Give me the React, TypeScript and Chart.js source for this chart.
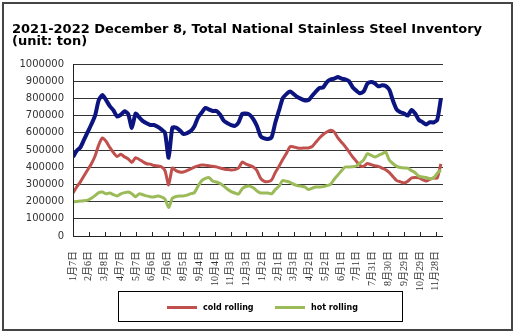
import React, { useEffect, useRef } from "react";
import { Chart, registerables } from "chart.js";
Chart.register(...registerables);

// Weekly observations, 7 Jan 2021 .. 8 Dec 2022 (101 weeks)
const totalInventory = [
  460000, 495000, 515000, 560000, 605000, 650000, 700000, 790000, 820000, 790000,
  755000, 730000, 695000, 705000, 725000, 709000, 628000, 712000, 690000, 668000,
  655000, 645000, 645000, 635000, 620000, 600000, 455000, 630000, 630000, 615000,
  593000, 598000, 610000, 638000, 690000, 718000, 745000, 735000, 727000, 727000,
  705000, 670000, 655000, 645000, 640000, 660000, 710000, 712000, 705000, 680000,
  640000, 580000, 567000, 564000, 575000, 660000, 730000, 800000, 825000, 840000,
  825000, 808000, 797000, 788000, 790000, 815000, 840000, 860000, 864000, 895000,
  910000, 915000, 924000, 915000, 910000, 900000, 865000, 845000, 830000, 840000,
  885000, 895000, 888000, 870000, 876000, 872000, 850000, 785000, 735000, 720000,
  712000, 700000, 733000, 712000, 675000, 662000, 648000, 662000, 660000, 675000,
  800000,
];
const coldRolling = [
  250000, 285000, 315000, 350000, 385000, 420000, 465000, 530000, 570000, 550000,
  515000, 485000, 462000, 475000, 460000, 448000, 428000, 455000, 445000, 432000,
  420000, 418000, 410000, 407000, 402000, 380000, 297000, 395000, 380000, 372000,
  372000, 380000, 390000, 400000, 408000, 413000, 412000, 408000, 405000, 402000,
  395000, 390000, 386000, 384000, 386000, 395000, 430000, 418000, 410000, 401000,
  380000, 335000, 318000, 316000, 326000, 370000, 405000, 445000, 480000, 520000,
  518000, 512000, 510000, 512000, 512000, 520000, 545000, 570000, 590000, 605000,
  615000, 605000, 570000, 545000, 520000, 490000, 460000, 435000, 410000, 405000,
  422000, 415000, 408000, 405000, 395000, 385000, 368000, 345000, 322000, 315000,
  308000, 318000, 337000, 340000, 338000, 328000, 320000, 330000, 337000, 337000,
  420000,
];
const hotRolling = [
  198000, 200000, 203000, 205000, 209000, 220000, 235000, 252000, 256000, 245000,
  250000, 240000, 233000, 245000, 252000, 256000, 246000, 228000, 245000, 240000,
  233000, 228000, 227000, 232000, 228000, 215000, 165000, 220000, 230000, 233000,
  233000, 238000, 246000, 252000, 290000, 322000, 335000, 340000, 318000, 314000,
  305000, 290000, 272000, 258000, 250000, 244000, 275000, 288000, 290000, 280000,
  262000, 250000, 250000, 250000, 245000, 270000, 290000, 322000, 318000, 312000,
  300000, 293000, 290000, 285000, 270000, 278000, 285000, 285000, 287000, 293000,
  300000, 330000, 355000, 380000, 401000, 401000, 402000, 407000, 425000, 442000,
  478000, 470000, 460000, 468000, 478000, 488000, 440000, 420000, 405000, 398000,
  395000, 395000, 380000, 368000, 348000, 343000, 340000, 333000, 337000, 365000,
  385000,
];
const tickLabels = [
  "1月7日", "2月6日", "3月8日", "4月7日", "5月7日", "6月6日", "7月6日", "8月5日",
  "9月4日", "10月4日", "11月3日", "12月3日", "1月2日", "2月1日", "3月3日", "4月2日",
  "5月2日", "6月1日", "7月1日", "7月31日", "8月30日", "9月29日", "10月29日", "11月28日",
];
const seriesNames = ["total", "cold rolling", "hot rolling"];
const titleLines = [
  "2021-2022 December 8, Total National Stainless Steel Inventory",
  "(unit: ton)",
];

const DAYS_PER_WEEK = 7;
const DAYS_PER_TICK = 30;

const toPoints = (arr: number[]) => arr.map((v, i) => ({ x: i * DAYS_PER_WEEK, y: v }));

const decorPlugin = {
  id: "decor",
  afterDraw(chart: any) {
    const ctx = chart.ctx as CanvasRenderingContext2D;
    const { left, right, top, bottom } = chart.chartArea;
    const xs = chart.scales.x;
    ctx.save();
    // axes
    ctx.strokeStyle = "#222";
    ctx.lineWidth = 1;
    ctx.beginPath();
    ctx.moveTo(Math.round(left) + 0.5, top);
    ctx.lineTo(Math.round(left) + 0.5, Math.round(bottom) + 0.5);
    ctx.lineTo(right, Math.round(bottom) + 0.5);
    for (const t of xs.ticks) {
      const px = Math.round(xs.getPixelForValue(t.value)) + 0.5;
      ctx.moveTo(px, Math.round(bottom) + 0.5);
      ctx.lineTo(px, Math.round(bottom) - 4);
    }
    ctx.stroke();

    // title
    ctx.fillStyle = "#000";
    ctx.font = "bold 13px 'DejaVu Sans', Verdana, sans-serif";
    ctx.textBaseline = "alphabetic";
    ctx.textAlign = "left";
    ctx.fillText(titleLines[0], 12, 33);
    ctx.fillText(titleLines[1], 12, 45);

    // legend box
    ctx.strokeStyle = "#000";
    ctx.lineWidth = 1;
    ctx.strokeRect(118.5, 291.5, 284, 30);
    const items = [
      { ds: chart.data.datasets[1], x: 167 },
      { ds: chart.data.datasets[2], x: 275 },
    ];
    ctx.font = "bold 8px 'DejaVu Sans', Verdana, sans-serif";
    ctx.textBaseline = "middle";
    for (const it of items) {
      ctx.strokeStyle = it.ds.borderColor;
      ctx.lineWidth = 3;
      ctx.beginPath();
      ctx.moveTo(it.x, 307.5);
      ctx.lineTo(it.x + 30, 307.5);
      ctx.stroke();
      ctx.fillStyle = "#000";
      ctx.fillText(it.ds.label, it.x + 36, 308);
    }

    // outer frame
    ctx.strokeStyle = "#444";
    ctx.lineWidth = 2;
    ctx.strokeRect(3, 3, 509, 327);
    ctx.restore();
  },
};

export default function App() {
  const ref = useRef<HTMLCanvasElement>(null);
  useEffect(() => {
    if (!ref.current) return;
    const chart = new Chart(ref.current, {
      type: "line",
      data: {
        datasets: [
          {
            label: seriesNames[0],
            data: toPoints(totalInventory),
            borderColor: "#0c1480",
            borderWidth: 4,
            pointRadius: 0,
            tension: 0.2,
            order: 3,
          },
          {
            label: seriesNames[1],
            data: toPoints(coldRolling),
            borderColor: "#c0504d",
            borderWidth: 3,
            pointRadius: 0,
            tension: 0.2,
            order: 2,
          },
          {
            label: seriesNames[2],
            data: toPoints(hotRolling),
            borderColor: "#9bbb59",
            borderWidth: 3,
            pointRadius: 0,
            tension: 0.2,
            order: 1,
          },
        ],
      },
      options: {
        responsive: false,
        animation: false,
        layout: { padding: { top: 64, right: 85, bottom: 0, left: 0 } },
        plugins: { legend: { display: false }, tooltip: { enabled: false }, title: { display: false } },
        scales: {
          x: {
            type: "linear",
            min: 0,
            max: 704,
            afterBuildTicks: (s: any) => {
              s.ticks = tickLabels.map((_, i) => ({ value: i * DAYS_PER_TICK }));
            },
            afterFit: (s: any) => {
              s.height = 98;
            },
            grid: { display: false },
            border: { display: false },
            ticks: {
              autoSkip: false,
              maxRotation: 90,
              minRotation: 90,
              padding: 7,
              color: "#333",
              font: { size: 10, family: "'Liberation Serif', 'Noto Sans CJK SC', serif" },
              callback: (v: any) => tickLabels[Math.round(Number(v) / DAYS_PER_TICK)] ?? "",
            },
          },
          y: {
            min: 0,
            max: 1000000,
            afterFit: (s: any) => {
              s.width = 73;
            },
            grid: { color: "#333", lineWidth: 1, drawTicks: false },
            border: { display: false },
            ticks: {
              stepSize: 100000,
              padding: 9,
              color: "#333",
              font: { size: 10, family: "'DejaVu Sans', Verdana, sans-serif" },
              callback: (v: any) => String(v),
            },
          },
        },
      },
      plugins: [decorPlugin],
    });
    return () => chart.destroy();
  }, []);
  return (
    <div style={{ position: "fixed", left: 0, top: 0, width: 528, height: 334, background: "#fff" }}>
      <canvas ref={ref} width={528} height={334} style={{ display: "block" }} />
    </div>
  );
}
